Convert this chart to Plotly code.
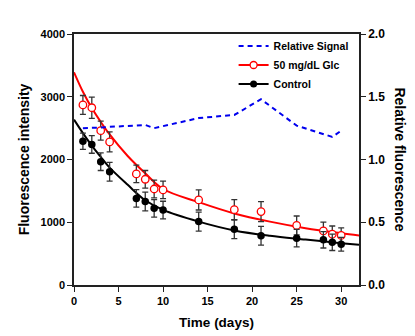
import plotly.graph_objects as go

# ---- data ----
days = [1, 2, 3, 4, 7, 8, 9, 10, 14, 18, 21, 25, 28, 29, 30]
glc_mean = [2870, 2825, 2460, 2280, 1770, 1685, 1530, 1515, 1355, 1200, 1170, 950, 862, 810, 790]
glc_err = [150, 170, 150, 160, 140, 140, 140, 140, 160, 160, 160, 150, 140, 130, 120]
ctrl_mean = [2290, 2240, 1965, 1805, 1380, 1330, 1222, 1195, 1010, 890, 785, 746, 720, 680, 650]
ctrl_err = [130, 140, 140, 150, 140, 150, 140, 140, 150, 150, 150, 140, 130, 130, 110]
rel_signal = [1.25, 1.25, 1.255, 1.26, 1.27, 1.275, 1.25, 1.265, 1.33, 1.355, 1.48, 1.27, 1.20, 1.18, 1.23]

# fitted decay curves
fit_days = [0, 1, 2, 3, 4, 6, 8, 10, 14, 18, 22, 26, 30, 32]
glc_fit = [3390, 3080, 2820, 2600, 2400, 2060, 1780, 1530, 1320, 1140, 1010, 905, 825, 790]
ctrl_fit = [2635, 2420, 2220, 2040, 1870, 1600, 1350, 1196, 1010, 870, 785, 725, 667, 640]

x_ticks = [0, 5, 10, 15, 20, 25, 30]
y_ticks = [0, 1000, 2000, 3000, 4000]
y2_ticks = [0.0, 0.5, 1.0, 1.5, 2.0]

FONT = "Liberation Sans Narrow, Arial, Liberation Sans, sans-serif"
TFONT = "Arial, Liberation Sans, sans-serif"
AX = "#222222"

fig = go.Figure()

# fitted curves
fig.add_trace(go.Scatter(x=fit_days, y=glc_fit, mode="lines", line=dict(color="red", width=2, shape="spline"),
                         showlegend=False, hoverinfo="skip"))
fig.add_trace(go.Scatter(x=fit_days, y=ctrl_fit, mode="lines", line=dict(color="black", width=2, shape="spline"),
                         showlegend=False, hoverinfo="skip"))

# data points with error bars
fig.add_trace(go.Scatter(x=days, y=glc_mean, mode="markers",
                         error_y=dict(type="data", array=glc_err, color="#333333", thickness=1.3, width=3),
                         marker=dict(symbol="circle", size=7.5, color="white", line=dict(color="red", width=1.3)),
                         showlegend=False))
fig.add_trace(go.Scatter(x=days, y=ctrl_mean, mode="markers",
                         error_y=dict(type="data", array=ctrl_err, color="#333333", thickness=1.3, width=3),
                         marker=dict(symbol="circle", size=7.5, color="black"),
                         showlegend=False))

# relative signal on right axis
fig.add_trace(go.Scatter(x=days, y=rel_signal, mode="lines", yaxis="y2", name="Relative Signal",
                         line=dict(color="#0000ee", width=2, dash="5px,4px"), legendrank=1))

# legend-only entries
fig.add_trace(go.Scatter(x=[None], y=[None], mode="lines+markers", name="50 mg/dL Glc",
                         line=dict(color="red", width=2),
                         marker=dict(symbol="circle", size=7, color="white", line=dict(color="red", width=1.3)),
                         legendrank=2))
fig.add_trace(go.Scatter(x=[None], y=[None], mode="lines+markers", name="Control",
                         line=dict(color="black", width=2),
                         marker=dict(symbol="circle", size=7, color="black"),
                         legendrank=3))

fig.update_layout(
    width=415, height=336,
    margin=dict(l=66, r=64, t=26, b=59),
    paper_bgcolor="white", plot_bgcolor="white",
    font=dict(family=FONT, size=11, color="black"),
    showlegend=True,
    legend=dict(x=0.56, y=1.01, xanchor="left", yanchor="top", bgcolor="rgba(0,0,0,0)",
                font=dict(family=TFONT, size=10.5, color="black", weight="bold"),
                itemwidth=30, tracegroupgap=0),
    xaxis=dict(range=[0, 32], tickvals=x_ticks, ticks="outside", ticklen=5, tickwidth=1.3, tickcolor=AX,
               showline=True, linecolor=AX, linewidth=1.5, mirror=True, showgrid=False, zeroline=False,
               tickfont=dict(family=FONT, size=11, weight="bold"),
               title=dict(text="Time (days)", font=dict(family=TFONT, size=13.5, weight="bold"), standoff=12)),
    yaxis=dict(range=[0, 4000], tickvals=y_ticks, ticks="outside", ticklen=5, tickwidth=1.3, tickcolor=AX,
               showline=True, linecolor=AX, linewidth=1.5, showgrid=False, zeroline=False,
               tickfont=dict(family=FONT, size=11, weight="bold"),
               title=dict(text="Fluorescence intensity", font=dict(family=TFONT, size=14, weight="bold"), standoff=8)),
    yaxis2=dict(range=[0, 2], tickvals=y2_ticks, tickformat=".1f", overlaying="y", side="right",
                ticks="outside", ticklen=5, tickwidth=1.3, tickcolor=AX,
                showline=True, linecolor=AX, linewidth=1.5, showgrid=False, zeroline=False,
                tickfont=dict(family=TFONT, size=12, weight="bold")),
    annotations=[dict(text="Relative fluorescence", textangle=90, xref="paper", yref="paper",
                      x=1.144, y=0.5, xanchor="center", yanchor="middle", showarrow=False,
                      font=dict(family=TFONT, size=14, weight="bold", color="black"))],
)

fig.write_html("out.html")
